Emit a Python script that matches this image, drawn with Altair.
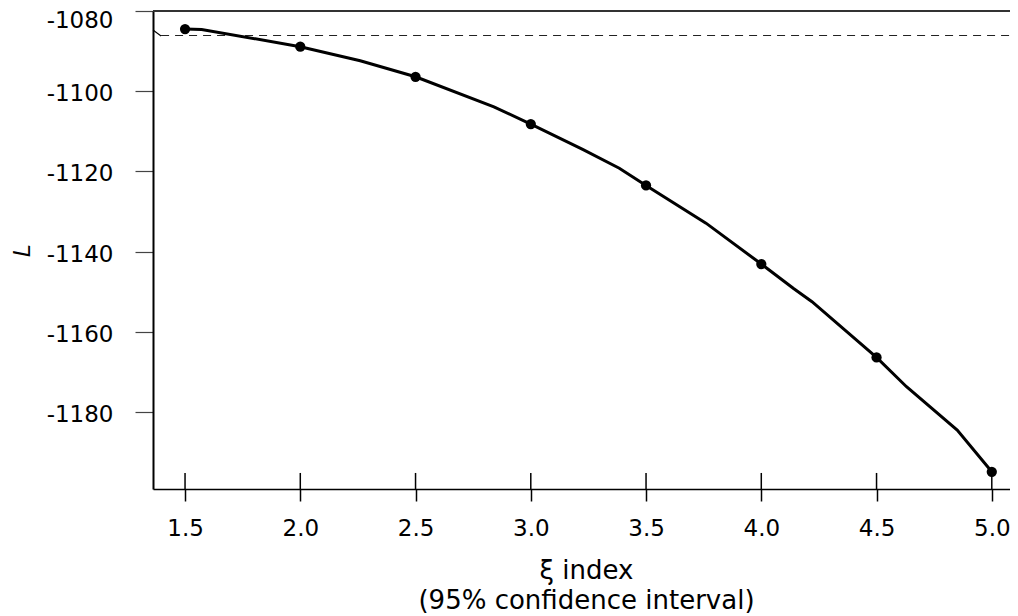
import altair as alt
import pandas as pd

# ---- data ----
xi_points = [1.5, 2.0, 2.5, 3.0, 3.5, 4.0, 4.5, 5.0]
loglik_points = [-1084.5, -1088.9, -1096.4, -1108.2, -1123.5, -1143.1, -1166.4, -1194.9]

xi_curve = [1.5, 1.572, 2.0, 2.26, 2.5, 2.84, 3.0, 3.225, 3.384, 3.5, 3.76,
            4.0, 4.14, 4.22, 4.5, 4.63, 4.85, 5.0]
loglik_curve = [-1084.5, -1084.6, -1088.9, -1092.4, -1096.4, -1103.9, -1108.2,
                -1114.5, -1119.2, -1123.5, -1132.9, -1143.1, -1149.2, -1152.5,
                -1166.4, -1173.7, -1184.5, -1194.9]

ci_level = -1086.1
ci_start = 1.396
ci_end = 5.079
seg_xi = [1.361, 1.396]
seg_loglik = [-1084.75, -1086.25]

x_ticks = [1.5, 2.0, 2.5, 3.0, 3.5, 4.0, 4.5, 5.0]
y_ticks = [-1080, -1100, -1120, -1140, -1160, -1180]
x_domain = [1.361, 5.079]
y_domain = [-1199.2, -1080]
tick_top = -1195.2

x_title = ["\u03be index", "(95% confidence interval)"]
y_title = "L"

# ---- tables ----
curve_df = pd.DataFrame({"xi": xi_curve, "L": loglik_curve})
pts_df = pd.DataFrame({"xi": xi_points, "L": loglik_points})
ci_df = pd.DataFrame({"xi": [ci_start], "xi2": [ci_end], "L": [ci_level]})
seg_df = pd.DataFrame({"xi": seg_xi, "L": seg_loglik})
tick_df = pd.DataFrame({"xi": x_ticks, "L": [tick_top] * len(x_ticks),
                        "L2": [y_domain[0]] * len(x_ticks)})

FONT = "DejaVu Sans"

x_scale = alt.Scale(domain=x_domain, nice=False, zero=False)
y_scale = alt.Scale(domain=y_domain, nice=False, zero=False)

x_axis = alt.Axis(
    values=x_ticks, format=".1f", title=x_title,
    grid=False, domainColor="black", domainWidth=1.5,
    tickColor="black", tickWidth=1.5, tickSize=12,
    labelFont=FONT, labelFontSize=23, labelColor="black", labelPadding=16,
    labelFlush=False,
    titleFont=FONT, titleFontSize=26, titleFontWeight="normal", titleColor="black",
    titleLineHeight=30, titleBaseline="alphabetic", titleY=89, titleX=433,
)
y_axis = alt.Axis(
    values=y_ticks, title=y_title,
    labelExpr="'-' + format(abs(datum.value), 'd')",
    labelOffset={"condition": {"test": "datum.value == -1080", "value": 9.5}, "value": 2.5},
    grid=False, domainColor="black", domainWidth=2,
    tickColor="#444444", tickWidth=1.2, tickSize=18,
    labelFont=FONT, labelFontSize=23, labelColor="black", labelPadding=22,
    labelFlush=False,
    titleFont="Liberation Sans", titleFontSize=24, titleFontStyle="italic",
    titleFontWeight="normal", titleColor="black",
    titleAngle=270, titleAlign="center", titleBaseline="middle",
    titleX=-131, titleY=239,
)

X = alt.X("xi:Q", scale=x_scale, axis=x_axis)
Y = alt.Y("L:Q", scale=y_scale, axis=y_axis)

top_rule = alt.Chart(pts_df).mark_rule(color="#333333", strokeWidth=1.8).encode(
    y=alt.datum(y_domain[1])
)

ci_rule = alt.Chart(ci_df).mark_rule(
    color="#222222", strokeWidth=1.1, strokeDash=[8, 6]
).encode(x=X, x2="xi2:Q", y=Y)

seg_line = alt.Chart(seg_df).mark_line(color="black", strokeWidth=1.1).encode(
    x=X, y=Y
)

up_ticks = alt.Chart(tick_df).mark_rule(color="black", strokeWidth=1.5).encode(
    x=X, y=Y, y2="L2:Q"
)

curve = alt.Chart(curve_df).mark_line(color="black", strokeWidth=3).encode(
    x=X, y=Y
)

points = alt.Chart(pts_df).mark_point(
    filled=True, color="black", size=105, opacity=1, shape="circle"
).encode(x=X, y=Y)

chart = alt.layer(top_rule, ci_rule, seg_line, up_ticks, curve, points).properties(
    width=857, height=478,
    padding={"left": 145, "top": 3, "right": 0, "bottom": 127},
    autosize=alt.AutoSizeParams(type="none"),
    background="white",
).configure_view(stroke=None)

chart.save("out.html", embed_options={"renderer": "svg", "actions": False})
